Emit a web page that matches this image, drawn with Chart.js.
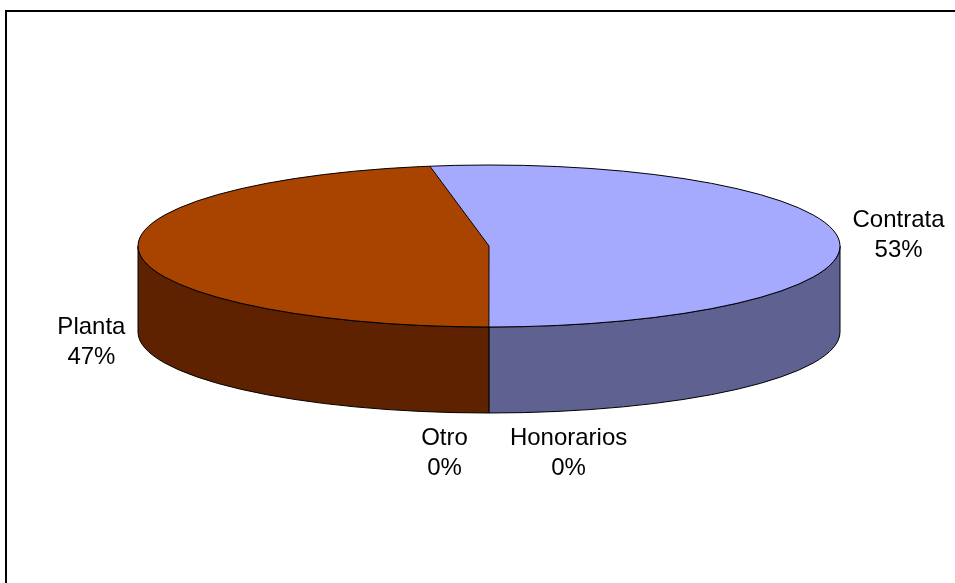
<!DOCTYPE html>
<html>
<head>
<meta charset="utf-8">
<script src="https://cdn.jsdelivr.net/npm/chart.js@4.4.0/dist/chart.umd.min.js"></script>
<style>
    body { margin: 0; background: #fff; }
    canvas { display: block; }
</style>
</head>
<body>
<canvas id="myChart" width="955" height="583"></canvas>
<script>
const categorias = ['Contrata', 'Honorarios', 'Otro', 'Planta'];
const valores = [52.7, 0, 0, 47.3];
const coloresTapa = ['#A6AAFF', '#9999FF', '#FFFFCC', '#A84400'];
const coloresLado = ['#5F6191', '#55558F', '#8F8F72', '#5E2200'];

// where the 3d pie sits on the page
const pie = { cx: 489, cy: 246, rx: 351, ry: 81, depth: 86 };

const marco = {
    id: 'marco',
    beforeDraw(chart) {
        const ctx = chart.ctx;
        ctx.save();
        ctx.strokeStyle = '#000';
        ctx.lineWidth = 2;
        ctx.beginPath();
        ctx.moveTo(6, 583);
        ctx.lineTo(6, 11);
        ctx.lineTo(955, 11);
        ctx.stroke();
        ctx.restore();
    }
};

const pie3d = {
    id: 'pie3d',
    beforeDatasetsDraw(chart) {
        const ctx = chart.ctx;
        const arcs = chart.getDatasetMeta(0).data;

        // paredes (solo la mitad de adelante)
        arcs.forEach((arc, i) => {
            const p = arc.getProps(['startAngle', 'endAngle'], true);
            for (let k = -1; k <= 1; k++) {
                const a = Math.max(p.startAngle + k * 2 * Math.PI, 0);
                const b = Math.min(p.endAngle + k * 2 * Math.PI, Math.PI);
                if (b - a <= 0.0001) continue;
                ctx.beginPath();
                ctx.ellipse(pie.cx, pie.cy, pie.rx, pie.ry, 0, a, b);
                ctx.ellipse(pie.cx, pie.cy + pie.depth, pie.rx, pie.ry, 0, b, a, true);
                ctx.closePath();
                ctx.fillStyle = coloresLado[i];
                ctx.fill();
                ctx.strokeStyle = '#000';
                ctx.lineWidth = 1;
                ctx.stroke();
            }
        });

        // la tapa la dibuja chart.js, aplastada
        const p0 = arcs[0].getProps(['x', 'y', 'outerRadius'], true);
        ctx.save();
        ctx.translate(pie.cx, pie.cy);
        ctx.scale(pie.rx / p0.outerRadius, pie.ry / p0.outerRadius);
        ctx.translate(-p0.x, -p0.y);
    },
    afterDatasetsDraw(chart) {
        const ctx = chart.ctx;
        ctx.restore();
        const arcs = chart.getDatasetMeta(0).data;
        ctx.save();
        ctx.strokeStyle = '#000';
        ctx.lineWidth = 1;
        ctx.beginPath();
        ctx.ellipse(pie.cx, pie.cy, pie.rx, pie.ry, 0, 0, 2 * Math.PI);
        ctx.stroke();
        arcs.forEach((arc) => {
            const p = arc.getProps(['startAngle', 'endAngle'], true);
            if (p.endAngle - p.startAngle <= 0.0001) return;
            ctx.beginPath();
            ctx.moveTo(pie.cx, pie.cy);
            ctx.lineTo(pie.cx + pie.rx * Math.cos(p.startAngle), pie.cy + pie.ry * Math.sin(p.startAngle));
            ctx.stroke();
        });
        ctx.restore();
    }
};

const etiquetas = {
    id: 'etiquetas',
    afterDraw(chart) {
        const ctx = chart.ctx;
        const arcs = chart.getDatasetMeta(0).data;
        const total = valores.reduce((a, b) => a + b, 0);
        const lineH = 30;
        ctx.save();
        ctx.font = '24px "Liberation Sans", Arial, sans-serif';
        ctx.fillStyle = '#000';
        ctx.textAlign = 'center';
        ctx.textBaseline = 'middle';

        const items = arcs.map((arc, i) => {
            const p = arc.getProps(['startAngle', 'endAngle'], true);
            const mid = (p.startAngle + p.endAngle) / 2;
            const cos = Math.cos(mid);
            const sin = Math.sin(mid);
            const lines = [categorias[i], Math.round(valores[i] / total * 100) + '%'];
            const w = Math.max(...lines.map(t => ctx.measureText(t).width));
            const h = lines.length * lineH;
            return {
                i, cos, sin, lines, w, h,
                ax: pie.cx + pie.rx * cos,
                ay: pie.cy + pie.ry * sin + (sin > 0 ? pie.depth : 0)
            };
        });

        // agrupar las que caen en el mismo punto
        const grupos = [];
        items.forEach(it => {
            const g = grupos.find(g => Math.abs(g[0].ax - it.ax) < 3 && Math.abs(g[0].ay - it.ay) < 3);
            if (g) g.push(it); else grupos.push([it]);
        });

        grupos.forEach(g => {
            if (g.length === 1) {
                const it = g[0];
                it.x = it.ax + it.cos * (it.w / 2 + 14);
                it.y = it.ay + it.sin * (it.h / 2 + 10);
            } else {
                g.sort((a, b) => b.i - a.i);
                const half = Math.ceil(g.length / 2);
                let left = g[0].ax - 21;
                for (let j = half - 1; j >= 0; j--) {
                    g[j].x = left - g[j].w / 2;
                    left -= g[j].w + 42;
                }
                let right = g[0].ax + 21;
                for (let j = half; j < g.length; j++) {
                    g[j].x = right + g[j].w / 2;
                    right += g[j].w + 42;
                }
                g.forEach(it => { it.y = it.ay + it.sin * (it.h / 2 + 10); });
            }
        });

        items.forEach(it => {
            it.lines.forEach((t, j) => {
                ctx.fillText(t, it.x, it.y - it.h / 2 + lineH / 2 + j * lineH);
            });
        });
        ctx.restore();
    }
};

const ctx = document.getElementById('myChart').getContext('2d');
const myChart = new Chart(ctx, {
    type: 'pie',
    data: {
        labels: categorias,
        datasets: [{
            data: valores,
            backgroundColor: coloresTapa,
            borderWidth: 0,
            clip: false
        }]
    },
    options: {
        responsive: false,
        animation: false,
        rotation: -9.7,
        plugins: {
            legend: { display: false },
            tooltip: { enabled: false }
        }
    },
    plugins: [marco, pie3d, etiquetas]
});
</script>
</body>
</html>
